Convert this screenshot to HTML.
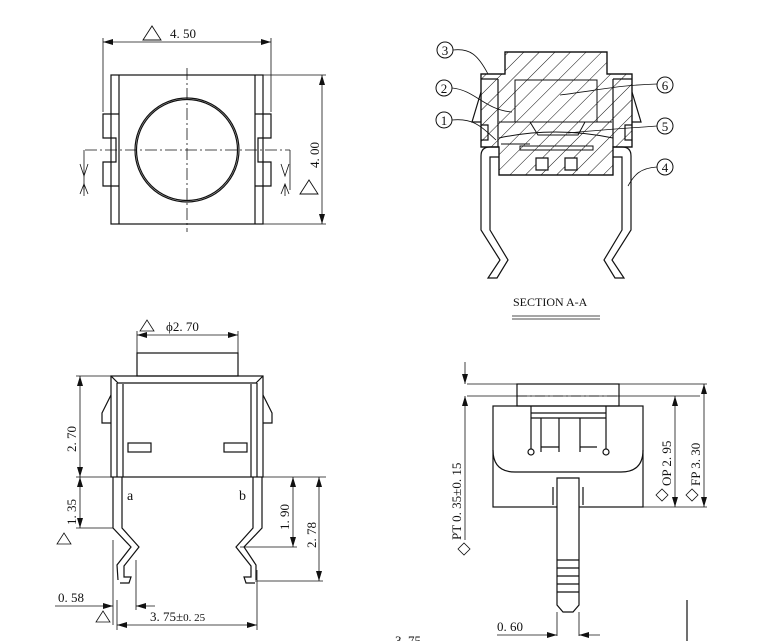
<!DOCTYPE html>
<html><head><meta charset="utf-8"><style>
html,body{margin:0;padding:0;background:#fff;}
svg{display:block}
text{font-family:"Liberation Serif",serif;fill:#111;}
</style></head><body>
<svg width="766" height="641" viewBox="0 0 766 641" xmlns="http://www.w3.org/2000/svg">
<defs>
<pattern id="h" width="11" height="11" patternUnits="userSpaceOnUse" patternTransform="rotate(45)">
<line x1="0" y1="0" x2="0" y2="11" stroke="#111" stroke-width="1"/>
</pattern>
<marker id="a" viewBox="0 0 10 6" refX="10" refY="3" markerWidth="10" markerHeight="6" orient="auto-start-reverse" markerUnits="userSpaceOnUse"><path d="M0,0 L10,3 L0,6 z" fill="#111"/></marker>
</defs>
<g fill="none" stroke="#111" stroke-width="1.2">
<!-- TOP VIEW -->
<rect x="111" y="75" width="152" height="149"/>
<line x1="119" y1="75" x2="119" y2="224"/><line x1="255" y1="75" x2="255" y2="224"/>
<path d="M119,114 H103 V138 H116 V162 H103 V186 H119"/>
<path d="M255,114 H271 V138 H258 V162 H271 V186 H255"/>
<circle cx="187" cy="150" r="52"/><circle cx="187" cy="150" r="50.5"/>
<line x1="187" y1="68" x2="187" y2="232" stroke-dasharray="12,3,2,3" stroke-width="0.8"/>
<line x1="85" y1="150" x2="290" y2="150" stroke-dasharray="12,3,2,3" stroke-width="0.8"/>
<path d="M84,150 V190 M290,150 V190" stroke-width="0.8"/>
<path d="M80,164 L84,176 L88,164 M80,194 L84,184 L88,194 M84,184 V196" stroke-width="0.8"/>
<path d="M281,164 L285,176 L289,164 M281,194 L285,184 L289,194 M285,184 V196" stroke-width="0.8"/>
<line x1="103" y1="42" x2="271" y2="42" stroke-width="0.8" marker-start="url(#a)" marker-end="url(#a)"/>
<path d="M103,38 V112 M271,38 V112" stroke-width="0.8"/>
<path d="M263,75 H326 M263,224 H326" stroke-width="0.8"/>
<line x1="322" y1="75" x2="322" y2="224" stroke-width="0.8" marker-start="url(#a)" marker-end="url(#a)"/>
<path d="M143,40 L152,26 L161,40 Z" stroke-width="0.9"/>
<path d="M300,194 L309,180 L318,194 Z" stroke-width="0.9"/>

<!-- SECTION -->
<path d="M505,52 H607 V74 H632 V147 H613 V175 H499 V147 H481 V74 H505 Z" fill="url(#h)"/>
<path d="M505,52 H607 V74 H632 V147 H613 V175 H499 V147 H481 V74 H505 Z"/>
<path d="M498,79 V147 M613,79 V147 M481,79 H498 M613,79 H632"/>
<path d="M515,80 H597 V122 H515 Z M499,122 H612 M530,122 L538,135 H578 L585,122" stroke-width="1"/>
<path d="M499,138 Q555,126 613,138 M501,144 H530 M540,146 H580" stroke-width="1"/>
<path d="M520,146 H593 V150 H520 Z" stroke-width="1"/>
<path d="M536,158 H548 V170 H536 Z M565,158 H577 V170 H565 Z" fill="#fff"/>
<path d="M481,92 L472,122 H481 M632,92 L641,122 H632"/>
<path d="M481,125 H488 V140 H481 M632,125 H625 V140 H632"/>
<path d="M499,147 H490 Q481,147 481,156 V230 L500,260 L488,278 H497 L508,260 L490,230 V157 H499"/>
<path d="M613,147 H622 Q631,147 631,156 V230 L612,260 L624,278 H615 L604,260 L622,230 V157 H613"/>
<path d="M453,50 C470,48 478,55 488,74 M452,88 C475,90 485,110 512,112 M452,120 C472,118 480,125 496,140" stroke-width="0.8"/>
<path d="M657,84 C620,85 600,90 560,95 M657,126 C630,128 600,130 568,133 M657,167 C640,168 634,175 628,186" stroke-width="0.8"/>
<line x1="512" y1="316" x2="600" y2="316" stroke-width="0.8"/><line x1="512" y1="319" x2="600" y2="319" stroke-width="0.8"/>

<!-- FRONT VIEW -->
<rect x="137" y="353" width="101" height="23"/>
<rect x="111" y="376" width="152" height="101"/>
<path d="M117,383 H257 M123,384 V477 M251,384 V477 M111,376 L118,383 M263,376 L256,383 M117,383 V477 M257,383 V477"/>
<path d="M111,395 L102,413 V423 H111 M263,395 L272,413 V423 H263"/>
<rect x="128" y="443" width="23" height="9"/><rect x="224" y="443" width="23" height="9"/>
<path d="M113,477 V528 L131,547 L117,565 L118,580 M122,477 V528 L139,547 L124,566 V577 H131 L129,583 H120"/>
<path d="M262,477 V528 L244,547 L256,565 L256,580 M253,477 V528 L236,547 L251,566 V577 H244 L246,583 H255"/>
<g stroke-width="0.8">
<path d="M76,477 H326 M76,376 H111 M76,528 H113 M240,547 H297 M255,581 H323"/>
<line x1="80" y1="376" x2="80" y2="477" marker-start="url(#a)" marker-end="url(#a)"/>
<line x1="80" y1="477" x2="80" y2="528" marker-start="url(#a)" marker-end="url(#a)"/>
<line x1="293" y1="477" x2="293" y2="547" marker-start="url(#a)" marker-end="url(#a)"/>
<line x1="319" y1="477" x2="319" y2="581" marker-start="url(#a)" marker-end="url(#a)"/>
<line x1="137" y1="335" x2="238" y2="335" marker-start="url(#a)" marker-end="url(#a)"/>
<path d="M137,331 V353 M238,331 V353"/>
<line x1="55" y1="606" x2="113" y2="606" marker-end="url(#a)"/>
<line x1="155" y1="606" x2="136" y2="606" marker-end="url(#a)"/>
<path d="M113,540 V625 M136,560 V610 M257,570 V630 M117,600 V630"/>
<line x1="117" y1="625" x2="257" y2="625" marker-start="url(#a)" marker-end="url(#a)"/>
<path d="M140,331 L147,320 L154,331 Z M57,544 L64,533 L71,544 Z M96,622 L103,611 L110,622 Z"/>
</g>

<!-- SIDE VIEW -->
<rect x="517" y="384" width="102" height="22"/>
<rect x="493" y="406" width="150" height="101"/>
<path d="M493,450 Q493,472 515,472 H621 Q643,472 643,450" />
<path d="M531,406 V452 M606,406 V452 M531,413 H606 M531,418 H606 M541,418 V452 M580,418 V452 M559,418 V452 M541,447 H559 M580,447 H597"/>
<circle cx="531" cy="452" r="3" fill="#fff"/><circle cx="606" cy="452" r="3" fill="#fff"/>
<path d="M557,478 H579 V605 L573,612 H563 L557,605 Z" fill="#fff"/>
<path d="M553,487 V505 M583,487 V505 M557,560 H579 M557,568 H579 M557,576 H579 M557,584 H579 M557,592 H579"/>
<g stroke-width="0.8">
<path d="M467,384 H517 M619,384 H707 M467,396 H700 M643,507 H707"/>
<path d="M517,396 H619" stroke-dasharray="10,3,2,3"/>
<line x1="465" y1="362" x2="465" y2="384" marker-end="url(#a)"/>
<line x1="465" y1="430" x2="465" y2="396" marker-end="url(#a)"/>
<path d="M465,430 V540"/>
<line x1="675" y1="396" x2="675" y2="507" marker-start="url(#a)" marker-end="url(#a)"/>
<line x1="704" y1="384" x2="704" y2="507" marker-start="url(#a)" marker-end="url(#a)"/>
<path d="M557,612 V636 M579,612 V636"/>
<line x1="497" y1="635" x2="557" y2="635" marker-end="url(#a)"/>
<line x1="600" y1="635" x2="579" y2="635" marker-end="url(#a)"/>
<path d="M687,600 V641" stroke-width="1.2"/>
<path d="M458,549 L464,543 L470,549 L464,555 Z M656,495 L662,489 L668,495 L662,501 Z M686,495 L692,489 L698,495 L692,501 Z"/>
</g>
</g>
<g font-size="13">
<text x="170" y="38">4. 50</text>
<text x="0" y="0" transform="translate(319,168) rotate(-90)">4. 00</text>
<text x="166" y="331">ϕ2. 70</text>
<text transform="translate(76,452) rotate(-90)">2. 70</text>
<text transform="translate(76,525) rotate(-90)">1. 35</text>
<text transform="translate(289,530) rotate(-90)">1. 90</text>
<text transform="translate(316,548) rotate(-90)">2. 78</text>
<text x="127" y="500" font-size="14">a</text>
<text x="239" y="500" font-size="14">b</text>
<text x="58" y="602">0. 58</text>
<text x="150" y="621">3. 75±<tspan font-size="11">0. 25</tspan></text>
<text x="497" y="631">0. 60</text>
<text x="395" y="645">3. 75</text>
<text transform="translate(461,540) rotate(-90)">PT 0. 35±0. 15</text>
<text transform="translate(671,486) rotate(-90)">OP 2. 95</text>
<text transform="translate(700,486) rotate(-90)">FP 3. 30</text>
<text x="513" y="306" font-size="12" font-family="Liberation Mono">SECTION A-A</text>
<g font-size="13" text-anchor="middle">
<circle cx="445" cy="50" r="8" fill="none" stroke="#111"/><text x="445" y="55">3</text>
<circle cx="444" cy="88" r="8" fill="none" stroke="#111"/><text x="444" y="93">2</text>
<circle cx="444" cy="120" r="8" fill="none" stroke="#111"/><text x="444" y="125">1</text>
<circle cx="665" cy="85" r="8" fill="none" stroke="#111"/><text x="665" y="90">6</text>
<circle cx="665" cy="126" r="8" fill="none" stroke="#111"/><text x="665" y="131">5</text>
<circle cx="665" cy="167" r="8" fill="none" stroke="#111"/><text x="665" y="172">4</text>
</g>
</g>
</svg>
</body></html>
